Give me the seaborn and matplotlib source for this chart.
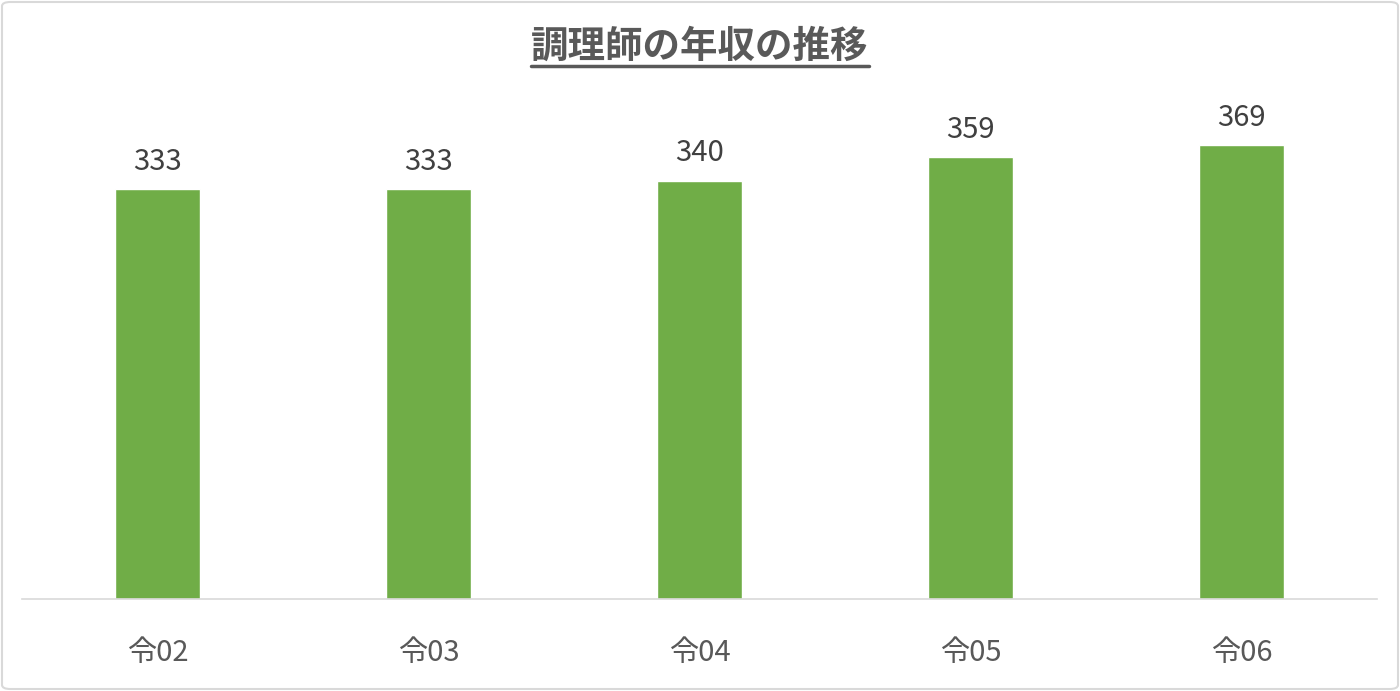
import matplotlib
matplotlib.use("Agg")
import matplotlib.pyplot as plt
import seaborn as sns
import pandas as pd
from matplotlib.lines import Line2D
from matplotlib.patches import FancyBboxPatch

categories = ["令02", "令03", "令04", "令05", "令06"]
values = [333, 333, 340, 359, 369]
title = "調理師の年収の推移"

sns.set_theme(style="white")
plt.rcParams['font.family'] = ['Noto Sans CJK JP', 'DejaVu Sans']

df = pd.DataFrame({"cat": categories, "val": values})
fig = plt.figure(figsize=(14, 6.91), dpi=100)
W, H = 1400, 691
ax = fig.add_axes([22 / W, (H - 599) / H, (1377 - 22) / W, (599 - 107) / H])
sns.barplot(data=df, x="cat", y="val", color="#70AD47", saturation=1, width=0.315, ax=ax)
ax.set_ylim(0, 400)
ax.set_xlim(-0.5, 4.5)
ax.set_xlabel("")
ax.set_ylabel("")
ax.set_yticks([])
for s in ["top", "right", "left"]:
    ax.spines[s].set_visible(False)
ax.spines["bottom"].set_color("#D9D9D9")
ax.spines["bottom"].set_linewidth(1.2)
ax.tick_params(axis="x", length=0, pad=28, labelsize=21, labelcolor="#595959")
for c in ax.containers:
    ax.bar_label(c, fmt="%d", padding=9, fontsize=21, color="#404040")

t = fig.text(0.5, (H - 46) / H, title, ha="center", va="center", fontsize=27,
             fontweight="bold", color="#595959")
fig.canvas.draw()
bb = t.get_window_extent()
uy = (H - 66) / H
fig.add_artist(Line2D([bb.x0 / W, bb.x1 / W], [uy, uy], color="#595959", lw=2.5,
                      transform=fig.transFigure))
fig.add_artist(FancyBboxPatch((2 / W, 2 / H), (W - 4) / W, (H - 4) / H,
                              boxstyle="round,pad=0,rounding_size=0.006",
                              transform=fig.transFigure, fill=False,
                              edgecolor="#D9D9D9", lw=1.5))
fig.savefig("out.png", dpi=100)
